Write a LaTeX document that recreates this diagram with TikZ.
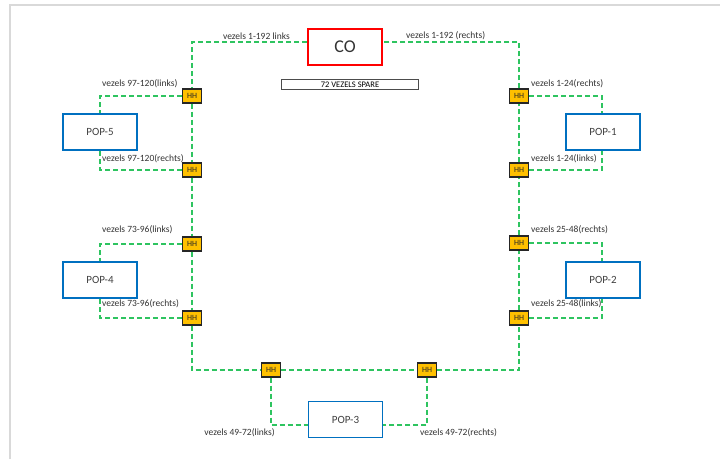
\documentclass[tikz,border=0pt]{standalone}
\usepackage{fontspec}
\setmainfont{Carlito}
\definecolor{fibergreen}{RGB}{46,196,96}
\definecolor{popblue}{RGB}{0,112,192}
\definecolor{hhgold}{RGB}{255,192,0}
\definecolor{framegray}{RGB}{217,217,217}
\tikzset{
  fiber/.style={draw=fibergreen, line width=1.5pt, dash pattern=on 5pt off 3pt},
  popbox/.style={draw=popblue, line width=1.8pt, fill=white, minimum width=74pt,
    minimum height=36pt, font=\fontsize{11}{13}\selectfont, text=black!75},
  hhbox/.style={draw=black!85, line width=1.3pt, fill=hhgold, minimum width=19pt,
    minimum height=14pt, inner sep=0pt, font=\fontsize{8}{9}\selectfont, text=black!85},
  lbl/.style={font=\fontsize{9.5}{11}\selectfont, text=black!80, inner sep=0pt},
}
\begin{document}
\begin{tikzpicture}[x=1pt, y=-1pt]
    \pgfmathsetmacro{\xl}{192}
    \pgfmathsetmacro{\xr}{519}
    \pgfmathsetmacro{\yt}{42}
    \pgfmathsetmacro{\yb}{370}
    \useasboundingbox (0,0) rectangle (720,459);
    \draw[framegray, line width=2pt] (10,459) -- (10,5) -- (720,5);

    % central office
    \node[draw=red, line width=1.8pt, minimum width=74pt, minimum height=36pt,
          font=\fontsize{18}{20}\selectfont, text=black!80] (co) at (345,47) {CO};
    \node[draw=black!70, line width=0.8pt, minimum width=137pt, minimum height=10pt,
          inner sep=0pt, font=\fontsize{8.5}{9}\selectfont] (spare) at (350,84.5) {72 VEZELS SPARE};

    % pops
    \node[popbox] (pop5) at (100,132) {POP-5};
    \node[popbox] (pop4) at (100,280) {POP-4};
    \node[popbox] (pop1) at (603,132) {POP-1};
    \node[popbox] (pop2) at (603,280) {POP-2};
    \node[popbox] (pop3) at (345.5,419.5) {POP-3};

    % handholes
    \node[hhbox] (hh5a) at (\xl,96) {HH};
    \node[hhbox] (hh5b) at (\xl,170) {HH};
    \node[hhbox] (hh4a) at (\xl,244) {HH};
    \node[hhbox] (hh4b) at (\xl,318) {HH};
    \node[hhbox] (hh1a) at (\xr,96) {HH};
    \node[hhbox] (hh1b) at (\xr,170) {HH};
    \node[hhbox] (hh2a) at (\xr,243) {HH};
    \node[hhbox] (hh2b) at (\xr,318) {HH};
    \node[hhbox] (hh3a) at (271,\yb) {HH};
    \node[hhbox] (hh3b) at (427,\yb) {HH};

    % ring
    \draw[fiber] ([yshift=5pt]co.west) -| (hh5a);
    \draw[fiber] (hh5a) -- (hh5b);
    \draw[fiber] (hh5b) -- (hh4a);
    \draw[fiber] (hh4a) -- (hh4b);
    \draw[fiber] (hh4b) |- (hh3a);
    \draw[fiber] (hh3a) -- (hh3b);
    \draw[fiber] (hh3b) -| (hh2b);
    \draw[fiber] (hh2b) -- (hh2a);
    \draw[fiber] (hh2a) -- (hh1b);
    \draw[fiber] (hh1b) -- (hh1a);
    \draw[fiber] (hh1a) |- ([yshift=5pt]co.east);

    % branches
    \draw[fiber] (hh5a) -| (pop5);
    \draw[fiber] (hh5b) -| (pop5);
    \draw[fiber] (hh4a) -| (pop4);
    \draw[fiber] (hh4b) -| (pop4);
    \draw[fiber] (hh1a) -| ([xshift=-1pt]pop1.north);
    \draw[fiber] (hh1b) -| ([xshift=-1pt]pop1.south);
    \draw[fiber] (hh2a) -| ([xshift=-1pt]pop2.north);
    \draw[fiber] (hh2b) -| ([xshift=-1pt]pop2.south);
    \draw[fiber] (hh3a) |- ([yshift=-5.5pt]pop3.west);
    \draw[fiber] (hh3b) |- ([yshift=-5.5pt]pop3.east);

    % labels
    \node[lbl, anchor=east] at (290,36) {vezels 1-192 links};
    \node[lbl, anchor=west] at (406,36) {vezels 1-192 (rechts)};
    \node[lbl, anchor=west] at (102,84) {vezels 97-120(links)};
    \node[lbl, anchor=west] at (102,158.5) {vezels 97-120(rechts)};
    \node[lbl, anchor=west] at (102,230) {vezels 73-96(links)};
    \node[lbl, anchor=west] at (102,304) {vezels 73-96(rechts)};
    \node[lbl, anchor=west] at (531,84) {vezels 1-24(rechts)};
    \node[lbl, anchor=west] at (531,158.5) {vezels 1-24(links)};
    \node[lbl, anchor=west] at (531,230) {vezels 25-48(rechts)};
    \node[lbl, anchor=west] at (531,304) {vezels 25-48(links)};
    \node[lbl, anchor=east] at (275,432.5) {vezels 49-72(links)};
    \node[lbl, anchor=west] at (420,432.5) {vezels 49-72(rechts)};
\end{tikzpicture}
\end{document}
